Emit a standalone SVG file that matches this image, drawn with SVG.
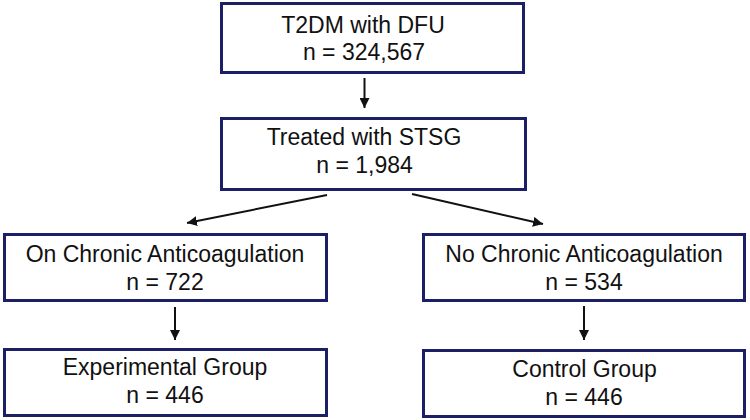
<svg xmlns="http://www.w3.org/2000/svg" width="750" height="420" viewBox="0 0 750 420">
<style>
.box{fill:#fff;stroke:#1a1f66;stroke-width:3}
.t{font-family:"Liberation Sans",Arial,sans-serif;font-size:23px;fill:#111;text-anchor:middle}
.c{stroke:#111;stroke-width:2;fill:none;marker-end:url(#ah)}
</style>
<defs>
<marker id="ah" viewBox="0 0 10 10" refX="10" refY="5" markerWidth="5" markerHeight="5" orient="auto" markerUnits="strokeWidth">
<path d="M0,0 L10,5 L0,10 z" fill="#111"/>
</marker>
</defs>
<rect width="750" height="420" fill="#fff"/>
<g id="n1"><rect class="box" x="221.5" y="3.5" width="302" height="69"/><text class="t" x="363" y="33">T2DM with DFU</text><text class="t" x="364" y="60">n = 324,567</text></g>
<g id="n2"><rect class="box" x="221.5" y="118.5" width="304" height="71"/><text class="t" x="364" y="145">Treated with STSG</text><text class="t" x="364.5" y="173">n = 1,984</text></g>
<g id="n3"><rect class="box" x="4.5" y="234.5" width="322" height="66"/><text class="t" x="165" y="262">On Chronic Anticoagulation</text><text class="t" x="165" y="290">n = 722</text></g>
<g id="n4"><rect class="box" x="423.5" y="234.5" width="321" height="66"/><text class="t" x="584" y="262">No Chronic Anticoagulation</text><text class="t" x="584" y="290">n = 534</text></g>
<g id="n5"><rect class="box" x="4.5" y="349.5" width="322" height="66"/><text class="t" x="165" y="375">Experimental Group</text><text class="t" x="165" y="403">n = 446</text></g>
<g id="n6"><rect class="box" x="423.5" y="350.5" width="321" height="66"/><text class="t" x="584.5" y="377">Control Group</text><text class="t" x="584" y="405">n = 446</text></g>
<g id="connectors">
<line class="c" x1="364.5" y1="78" x2="364.5" y2="108"/>
<line class="c" x1="327" y1="195" x2="187" y2="223"/>
<line class="c" x1="412" y1="194" x2="543" y2="224"/>
<line class="c" x1="175" y1="307" x2="175" y2="340"/>
<line class="c" x1="584" y1="306" x2="584" y2="340"/>
</g>
</svg>
